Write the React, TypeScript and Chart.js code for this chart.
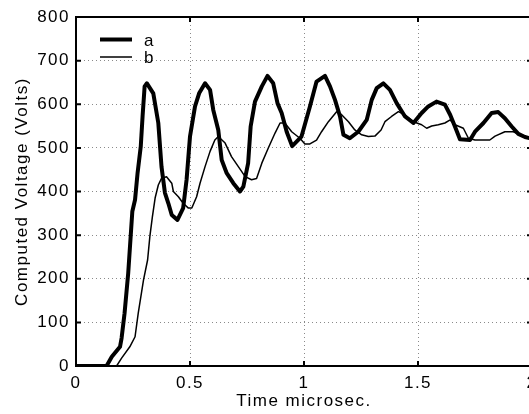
import React, { useEffect, useRef } from 'react';
import { Chart, registerables } from 'chart.js';

Chart.register(...registerables);

// Series "a" (thick line)
const timeA = [0, 0.134, 0.157, 0.193, 0.2, 0.213, 0.229, 0.247, 0.259, 0.27, 0.284, 0.292, 0.301, 0.311, 0.339, 0.361, 0.375, 0.39, 0.405, 0.42, 0.445, 0.47, 0.485, 0.5, 0.522, 0.54, 0.566, 0.588, 0.602, 0.624, 0.639, 0.661, 0.69, 0.719, 0.734, 0.755, 0.766, 0.785, 0.815, 0.84, 0.865, 0.884, 0.902, 0.924, 0.948, 0.989, 1.026, 1.055, 1.092, 1.114, 1.136, 1.158, 1.173, 1.201, 1.238, 1.275, 1.297, 1.319, 1.348, 1.377, 1.407, 1.443, 1.48, 1.516, 1.545, 1.581, 1.618, 1.641, 1.662, 1.684, 1.728, 1.75, 1.787, 1.823, 1.852, 1.881, 1.911, 1.94, 1.969, 1.984, 2.0];
const voltA = [0, 0, 21, 44, 64, 121, 213, 354, 381, 442, 503, 572, 641, 648, 625, 557, 457, 397, 373, 346, 335, 362, 427, 526, 595, 625, 648, 633, 587, 541, 472, 442, 419, 400, 411, 465, 549, 606, 641, 665, 648, 602, 580, 537, 504, 526, 595, 652, 665, 641, 610, 572, 530, 522, 537, 564, 610, 637, 648, 633, 602, 572, 557, 580, 595, 606, 599, 576, 549, 520, 518, 537, 557, 580, 582, 568, 549, 532, 525, 523, 521];

// Series "b" (thin line)
const timeB = [0, 0.178, 0.2, 0.236, 0.259, 0.273, 0.296, 0.314, 0.324, 0.335, 0.347, 0.361, 0.375, 0.397, 0.42, 0.427, 0.449, 0.47, 0.493, 0.508, 0.529, 0.544, 0.566, 0.588, 0.609, 0.624, 0.654, 0.682, 0.712, 0.742, 0.77, 0.792, 0.815, 0.843, 0.873, 0.895, 0.916, 0.946, 0.982, 1.004, 1.026, 1.055, 1.077, 1.107, 1.143, 1.165, 1.195, 1.223, 1.253, 1.282, 1.311, 1.338, 1.355, 1.384, 1.414, 1.443, 1.48, 1.516, 1.538, 1.56, 1.589, 1.618, 1.641, 1.662, 1.699, 1.721, 1.75, 1.815, 1.838, 1.881, 1.918, 1.948, 1.969, 1.984, 2.0];
const voltB = [0, 0, 18, 44, 67, 121, 197, 243, 297, 342, 385, 415, 430, 434, 419, 400, 388, 373, 362, 362, 388, 419, 457, 492, 518, 526, 511, 480, 457, 434, 427, 430, 465, 499, 534, 557, 557, 537, 522, 509, 509, 518, 537, 560, 583, 576, 560, 541, 530, 526, 527, 541, 560, 572, 583, 576, 560, 553, 545, 550, 553, 557, 564, 553, 545, 522, 518, 518, 527, 537, 537, 530, 526, 525, 524];

const seriesLabels = ['a', 'b'];
const xTicks = [0, 0.5, 1, 1.5, 2];
const yTicks = [0, 100, 200, 300, 400, 500, 600, 700, 800];
const xTitle = 'Time microsec.';
const yTitle = 'Computed Voltage (Volts)';

const FONT = "'Liberation Sans', Arial, Helvetica, sans-serif";
const FONT_SIZE = 17;
const LETTER_SPACING = '1.5px';

const spacingPlugin = {
  id: 'spacing',
  beforeLayout(chart: any) {
    chart.ctx.letterSpacing = LETTER_SPACING;
  },
  beforeDraw(chart: any) {
    chart.ctx.letterSpacing = LETTER_SPACING;
  },
};

const framePlugin = {
  id: 'frame',
  afterDatasetsDraw(chart: any) {
    const { ctx, chartArea } = chart;
    const { left, right, top, bottom } = chartArea;
    const xs = chart.scales.x;
    const ys = chart.scales.y;
    ctx.save();
    ctx.strokeStyle = '#000';
    ctx.lineWidth = 2;
    ctx.setLineDash([]);
    ctx.strokeRect(left, top, right - left, bottom - top);
    const tl = 5;
    ctx.beginPath();
    xTicks.forEach((v) => {
      const px = xs.getPixelForValue(v);
      ctx.moveTo(px, bottom);
      ctx.lineTo(px, bottom - tl);
      ctx.moveTo(px, top);
      ctx.lineTo(px, top + tl);
    });
    yTicks.forEach((v) => {
      const py = ys.getPixelForValue(v);
      ctx.moveTo(left, py);
      ctx.lineTo(left + tl, py);
      ctx.moveTo(right, py);
      ctx.lineTo(right - tl, py);
    });
    ctx.stroke();
    ctx.restore();
  },
  afterDraw(chart: any) {
    const { ctx } = chart;
    ctx.save();
    ctx.letterSpacing = LETTER_SPACING;
    const rows = [39.5, 57];
    chart.data.datasets.forEach((ds: any, i: number) => {
      const y = rows[i];
      ctx.strokeStyle = '#000';
      ctx.lineWidth = ds.borderWidth;
      ctx.setLineDash([]);
      ctx.beginPath();
      ctx.moveTo(100, y);
      ctx.lineTo(132, y);
      ctx.stroke();
      ctx.fillStyle = '#000';
      ctx.font = `${FONT_SIZE}px ${FONT}`;
      ctx.textAlign = 'left';
      ctx.textBaseline = 'alphabetic';
      ctx.fillText(ds.label, 144, y + 6);
    });
    ctx.restore();
  },
};

export default function App() {
  const ref = useRef<HTMLCanvasElement | null>(null);

  useEffect(() => {
    if (!ref.current) return;
    const chart = new Chart(ref.current, {
      type: 'line',
      data: {
        datasets: [
          {
            label: seriesLabels[0],
            data: timeA.map((t, i) => ({ x: t, y: voltA[i] })),
            borderColor: '#000',
            borderWidth: 4,
            pointRadius: 0,
            tension: 0,
            borderJoinStyle: 'round',
            borderCapStyle: 'round',
          },
          {
            label: seriesLabels[1],
            data: timeB.map((t, i) => ({ x: t, y: voltB[i] })),
            borderColor: '#000',
            borderWidth: 1.5,
            pointRadius: 0,
            tension: 0,
            borderJoinStyle: 'round',
          },
        ],
      },
      options: {
        animation: false,
        responsive: false,
        devicePixelRatio: 1,
        layout: { padding: { left: 0, top: 17, right: 28, bottom: 0 } },
        plugins: {
          legend: { display: false },
          tooltip: { enabled: false },
        },
        scales: {
          x: {
            type: 'linear',
            min: 0,
            max: 2,
            afterBuildTicks: (scale: any) => {
              scale.ticks = xTicks.map((v) => ({ value: v }));
            },
            afterFit: (scale: any) => {
              scale.height = 48;
            },
            ticks: {
              autoSkip: false,
              maxRotation: 0,
              padding: 7,
              color: '#000',
              font: { family: FONT, size: FONT_SIZE },
              callback: (v: any) => String(v),
            },
            grid: { color: '#8a8a8a', lineWidth: 1, drawTicks: false },
            border: { display: false, dash: [1, 3] },
            title: {
              display: true,
              text: xTitle,
              color: '#000',
              font: { family: FONT, size: FONT_SIZE },
              padding: { top: 0, bottom: 2 },
            },
          },
          y: {
            type: 'linear',
            min: 0,
            max: 800,
            afterBuildTicks: (scale: any) => {
              scale.ticks = yTicks.map((v) => ({ value: v }));
            },
            afterFit: (scale: any) => {
              scale.width = 76;
            },
            ticks: {
              autoSkip: false,
              padding: 6,
              color: '#000',
              font: { family: FONT, size: FONT_SIZE },
              callback: (v: any) => String(v),
            },
            grid: { color: '#8a8a8a', lineWidth: 1, drawTicks: false },
            border: { display: false, dash: [1, 3] },
            title: {
              display: true,
              text: yTitle,
              color: '#000',
              font: { family: FONT, size: FONT_SIZE },
              padding: { top: 12, bottom: 0 },
            },
          },
        },
      } as any,
      plugins: [spacingPlugin, framePlugin],
    });
    return () => chart.destroy();
  }, []);

  return (
    <div
      style={{
        position: 'fixed',
        left: 0,
        top: 0,
        width: 529,
        height: 414,
        overflow: 'hidden',
        background: '#fff',
      }}
    >
      <canvas ref={ref} width={560} height={414} style={{ display: 'block' }} />
    </div>
  );
}
